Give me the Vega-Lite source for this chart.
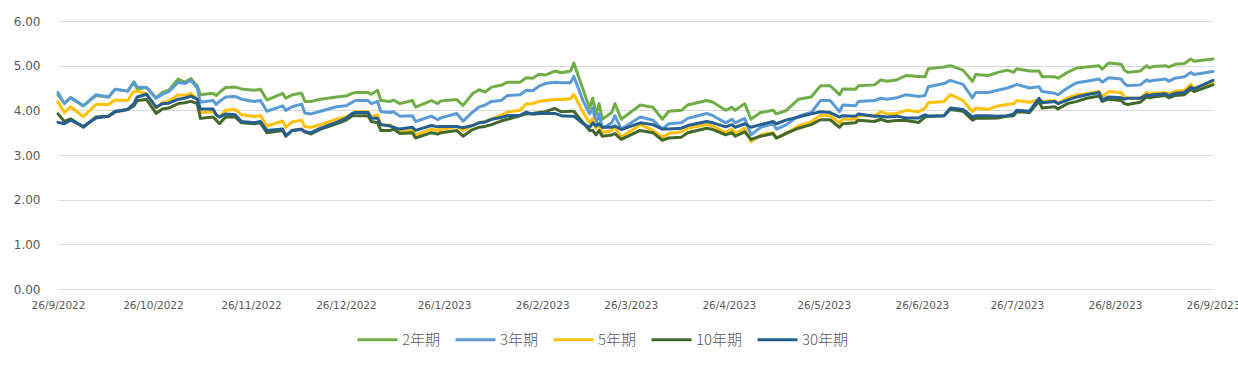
{
  "$schema": "https://vega.github.io/schema/vega-lite/v6.json",
  "width": 1155,
  "height": 268,
  "autosize": {"type": "none"},
  "padding": {"left": 58, "top": 21, "right": 25, "bottom": 80},
  "background": "white",
  "config": {"view": {"stroke": null}},
  "data": {"values": [
    {"date":"2022-09-26","2年期":4.34,"3年期":4.40,"5年期":4.19,"10年期":3.92,"30年期":3.73},
    {"date":"2022-09-28","2年期":4.16,"3年期":4.15,"5年期":3.95,"10年期":3.75,"30年期":3.70},
    {"date":"2022-09-30","2年期":4.28,"3年期":4.29,"5年期":4.08,"10年期":3.81,"30年期":3.78},
    {"date":"2022-10-04","2年期":4.10,"3年期":4.10,"5年期":3.86,"10年期":3.62,"30年期":3.64},
    {"date":"2022-10-08","2年期":4.33,"3年期":4.35,"5年期":4.13,"10年期":3.85,"30年期":3.83},
    {"date":"2022-10-12","2年期":4.30,"3年期":4.30,"5年期":4.13,"10年期":3.87,"30年期":3.87},
    {"date":"2022-10-14","2年期":4.47,"3年期":4.47,"5年期":4.23,"10年期":3.96,"30年期":3.98},
    {"date":"2022-10-18","2年期":4.43,"3年期":4.43,"5年期":4.22,"10年期":4.02,"30年期":4.02},
    {"date":"2022-10-20","2年期":4.62,"3年期":4.64,"5年期":4.43,"10年期":4.10,"30年期":4.15},
    {"date":"2022-10-21","2年期":4.48,"3年期":4.52,"5年期":4.43,"10年期":4.22,"30年期":4.30},
    {"date":"2022-10-24","2年期":4.51,"3年期":4.51,"5年期":4.37,"10年期":4.24,"30年期":4.36},
    {"date":"2022-10-27","2年期":4.28,"3年期":4.27,"5年期":4.05,"10年期":3.93,"30年期":4.07},
    {"date":"2022-10-29","2年期":4.40,"3年期":4.36,"5年期":4.17,"10年期":4.03,"30年期":4.15},
    {"date":"2022-10-31","2年期":4.45,"3年期":4.42,"5年期":4.21,"10年期":4.05,"30年期":4.16},
    {"date":"2022-11-03","2年期":4.70,"3年期":4.63,"5年期":4.35,"10年期":4.15,"30年期":4.25},
    {"date":"2022-11-05","2年期":4.63,"3年期":4.60,"5年期":4.33,"10年期":4.17,"30年期":4.27},
    {"date":"2022-11-07","2年期":4.71,"3年期":4.67,"5年期":4.38,"10年期":4.20,"30年期":4.32},
    {"date":"2022-11-09","2年期":4.55,"3年期":4.50,"5年期":4.25,"10年期":4.15,"30年期":4.25},
    {"date":"2022-11-10","2年期":4.35,"3年期":4.18,"5年期":3.95,"10年期":3.82,"30年期":4.03},
    {"date":"2022-11-14","2年期":4.38,"3年期":4.22,"5年期":3.97,"10年期":3.85,"30年期":4.03},
    {"date":"2022-11-15","2年期":4.33,"3年期":4.13,"5年期":3.90,"10年期":3.78,"30年期":3.90},
    {"date":"2022-11-16","2年期":4.40,"3年期":4.20,"5年期":3.85,"10年期":3.70,"30年期":3.85},
    {"date":"2022-11-18","2年期":4.51,"3年期":4.30,"5年期":4.00,"10年期":3.85,"30年期":3.92},
    {"date":"2022-11-21","2年期":4.52,"3年期":4.31,"5年期":4.02,"10年期":3.85,"30年期":3.90},
    {"date":"2022-11-23","2年期":4.48,"3年期":4.25,"5年期":3.90,"10年期":3.72,"30年期":3.75},
    {"date":"2022-11-27","2年期":4.45,"3年期":4.20,"5年期":3.86,"10年期":3.70,"30年期":3.72},
    {"date":"2022-11-29","2年期":4.47,"3年期":4.22,"5年期":3.88,"10年期":3.72,"30年期":3.75},
    {"date":"2022-12-01","2年期":4.23,"3年期":3.98,"5年期":3.65,"10年期":3.50,"30年期":3.55},
    {"date":"2022-12-06","2年期":4.38,"3年期":4.10,"5年期":3.76,"10年期":3.55,"30年期":3.58},
    {"date":"2022-12-07","2年期":4.27,"3年期":4.00,"5年期":3.62,"10年期":3.42,"30年期":3.43},
    {"date":"2022-12-09","2年期":4.35,"3年期":4.08,"5年期":3.74,"10年期":3.55,"30年期":3.55},
    {"date":"2022-12-12","2年期":4.38,"3年期":4.14,"5年期":3.78,"10年期":3.58,"30年期":3.57},
    {"date":"2022-12-13","2年期":4.20,"3年期":3.94,"5年期":3.63,"10年期":3.52,"30年期":3.52},
    {"date":"2022-12-15","2年期":4.20,"3年期":3.92,"5年期":3.62,"10年期":3.47,"30年期":3.50},
    {"date":"2022-12-18","2年期":4.25,"3年期":3.98,"5年期":3.68,"10年期":3.58,"30年期":3.60},
    {"date":"2022-12-23","2年期":4.30,"3年期":4.08,"5年期":3.80,"10年期":3.70,"30年期":3.73},
    {"date":"2022-12-26","2年期":4.32,"3年期":4.10,"5年期":3.85,"10年期":3.78,"30年期":3.82},
    {"date":"2022-12-28","2年期":4.38,"3年期":4.18,"5年期":3.93,"10年期":3.88,"30年期":3.93},
    {"date":"2022-12-29","2年期":4.40,"3年期":4.22,"5年期":3.97,"10年期":3.88,"30年期":3.95},
    {"date":"2023-01-02","2年期":4.40,"3年期":4.22,"5年期":3.97,"10年期":3.88,"30年期":3.95},
    {"date":"2023-01-03","2年期":4.36,"3年期":4.15,"5年期":3.85,"10年期":3.75,"30年期":3.82},
    {"date":"2023-01-05","2年期":4.45,"3年期":4.20,"5年期":3.90,"10年期":3.72,"30年期":3.82},
    {"date":"2023-01-06","2年期":4.22,"3年期":3.97,"5年期":3.68,"10年期":3.55,"30年期":3.68},
    {"date":"2023-01-09","2年期":4.20,"3年期":3.95,"5年期":3.67,"10年期":3.55,"30年期":3.65},
    {"date":"2023-01-10","2年期":4.23,"3年期":3.97,"5年期":3.60,"10年期":3.58,"30年期":3.62},
    {"date":"2023-01-12","2年期":4.15,"3年期":3.87,"5年期":3.52,"10年期":3.48,"30年期":3.58},
    {"date":"2023-01-16","2年期":4.22,"3年期":3.88,"5年期":3.55,"10年期":3.50,"30年期":3.62},
    {"date":"2023-01-17","2年期":4.07,"3年期":3.75,"5年期":3.45,"10年期":3.38,"30年期":3.55},
    {"date":"2023-01-22","2年期":4.22,"3年期":3.87,"5年期":3.58,"10年期":3.50,"30年期":3.66},
    {"date":"2023-01-24","2年期":4.15,"3年期":3.79,"5年期":3.55,"10年期":3.47,"30年期":3.63},
    {"date":"2023-01-25","2年期":4.21,"3年期":3.83,"5年期":3.57,"10年期":3.50,"30年期":3.64},
    {"date":"2023-01-30","2年期":4.24,"3年期":3.93,"5年期":3.64,"10年期":3.55,"30年期":3.64},
    {"date":"2023-02-01","2年期":4.11,"3年期":3.76,"5年期":3.55,"10年期":3.42,"30年期":3.61},
    {"date":"2023-02-04","2年期":4.37,"3年期":3.96,"5年期":3.66,"10年期":3.57,"30年期":3.66},
    {"date":"2023-02-06","2年期":4.46,"3年期":4.07,"5年期":3.72,"10年期":3.62,"30年期":3.72},
    {"date":"2023-02-08","2年期":4.41,"3年期":4.12,"5年期":3.75,"10年期":3.64,"30年期":3.74},
    {"date":"2023-02-10","2年期":4.52,"3年期":4.20,"5年期":3.80,"10年期":3.68,"30年期":3.80},
    {"date":"2023-02-13","2年期":4.56,"3年期":4.22,"5年期":3.89,"10年期":3.76,"30年期":3.84},
    {"date":"2023-02-15","2年期":4.63,"3年期":4.33,"5年期":3.96,"10年期":3.80,"30年期":3.88},
    {"date":"2023-02-19","2年期":4.63,"3年期":4.35,"5年期":4.00,"10年期":3.88,"30年期":3.89},
    {"date":"2023-02-21","2年期":4.73,"3年期":4.45,"5年期":4.15,"10年期":3.92,"30年期":3.96},
    {"date":"2023-02-23","2年期":4.72,"3年期":4.44,"5年期":4.15,"10年期":3.93,"30年期":3.91},
    {"date":"2023-02-25","2年期":4.81,"3年期":4.54,"5年期":4.20,"10年期":3.95,"30年期":3.93},
    {"date":"2023-02-27","2年期":4.79,"3年期":4.60,"5年期":4.22,"10年期":3.97,"30年期":3.93},
    {"date":"2023-03-02","2年期":4.88,"3年期":4.63,"5年期":4.24,"10年期":4.04,"30年期":3.93},
    {"date":"2023-03-04","2年期":4.84,"3年期":4.62,"5年期":4.24,"10年期":3.97,"30年期":3.88},
    {"date":"2023-03-07","2年期":4.88,"3年期":4.62,"5年期":4.26,"10年期":3.98,"30年期":3.87},
    {"date":"2023-03-08","2年期":5.06,"3年期":4.76,"5年期":4.36,"10年期":3.98,"30年期":3.87},
    {"date":"2023-03-11","2年期":4.45,"3年期":4.20,"5年期":3.95,"10年期":3.72,"30年期":3.70},
    {"date":"2023-03-13","2年期":4.05,"3年期":3.92,"5年期":3.72,"10年期":3.55,"30年期":3.62},
    {"date":"2023-03-14","2年期":4.27,"3年期":4.05,"5年期":3.82,"10年期":3.55,"30年期":3.72},
    {"date":"2023-03-15","2年期":3.90,"3年期":3.70,"5年期":3.60,"10年期":3.45,"30年期":3.65},
    {"date":"2023-03-16","2年期":4.15,"3年期":3.92,"5年期":3.70,"10年期":3.55,"30年期":3.70},
    {"date":"2023-03-17","2年期":3.80,"3年期":3.60,"5年期":3.50,"10年期":3.42,"30年期":3.62},
    {"date":"2023-03-20","2年期":3.95,"3年期":3.72,"5年期":3.55,"10年期":3.45,"30年期":3.62},
    {"date":"2023-03-21","2年期":4.15,"3年期":3.88,"5年期":3.62,"10年期":3.48,"30年期":3.65},
    {"date":"2023-03-23","2年期":3.80,"3年期":3.58,"5年期":3.40,"10年期":3.35,"30年期":3.57},
    {"date":"2023-03-29","2年期":4.12,"3年期":3.85,"5年期":3.68,"10年期":3.55,"30年期":3.72},
    {"date":"2023-04-02","2年期":4.07,"3年期":3.78,"5年期":3.55,"10年期":3.50,"30年期":3.68},
    {"date":"2023-04-05","2年期":3.80,"3年期":3.58,"5年期":3.40,"10年期":3.33,"30年期":3.58},
    {"date":"2023-04-07","2年期":3.98,"3年期":3.70,"5年期":3.48,"10年期":3.38,"30年期":3.58},
    {"date":"2023-04-11","2年期":4.00,"3年期":3.72,"5年期":3.52,"10年期":3.40,"30年期":3.60},
    {"date":"2023-04-13","2年期":4.12,"3年期":3.82,"5年期":3.60,"10年期":3.50,"30年期":3.66},
    {"date":"2023-04-19","2年期":4.22,"3年期":3.93,"5年期":3.68,"10年期":3.60,"30年期":3.75},
    {"date":"2023-04-21","2年期":4.18,"3年期":3.88,"5年期":3.65,"10年期":3.57,"30年期":3.72},
    {"date":"2023-04-25","2年期":4.00,"3年期":3.72,"5年期":3.50,"10年期":3.45,"30年期":3.63},
    {"date":"2023-04-27","2年期":4.07,"3年期":3.80,"5年期":3.58,"10年期":3.50,"30年期":3.68},
    {"date":"2023-04-28","2年期":4.00,"3年期":3.72,"5年期":3.48,"10年期":3.42,"30年期":3.62},
    {"date":"2023-05-01","2年期":4.15,"3年期":3.82,"5年期":3.60,"10年期":3.52,"30年期":3.70},
    {"date":"2023-05-03","2年期":3.80,"3年期":3.45,"5年期":3.30,"10年期":3.35,"30年期":3.62},
    {"date":"2023-05-06","2年期":3.95,"3年期":3.62,"5年期":3.45,"10年期":3.42,"30年期":3.68},
    {"date":"2023-05-10","2年期":4.00,"3年期":3.70,"5年期":3.50,"10年期":3.48,"30年期":3.75},
    {"date":"2023-05-11","2年期":3.92,"3年期":3.58,"5年期":3.38,"10年期":3.38,"30年期":3.70},
    {"date":"2023-05-14","2年期":3.99,"3年期":3.67,"5年期":3.48,"10年期":3.48,"30年期":3.78},
    {"date":"2023-05-18","2年期":4.25,"3年期":3.87,"5年期":3.65,"10年期":3.60,"30年期":3.85},
    {"date":"2023-05-22","2年期":4.30,"3年期":3.95,"5年期":3.74,"10年期":3.68,"30年期":3.92},
    {"date":"2023-05-25","2年期":4.55,"3年期":4.22,"5年期":3.89,"10年期":3.79,"30年期":3.97},
    {"date":"2023-05-28","2年期":4.55,"3年期":4.22,"5年期":3.88,"10年期":3.79,"30年期":3.95},
    {"date":"2023-05-31","2年期":4.35,"3年期":3.97,"5年期":3.72,"10年期":3.62,"30年期":3.85},
    {"date":"2023-06-01","2年期":4.48,"3年期":4.12,"5年期":3.80,"10年期":3.70,"30年期":3.88},
    {"date":"2023-06-05","2年期":4.47,"3年期":4.10,"5年期":3.80,"10年期":3.72,"30年期":3.87},
    {"date":"2023-06-06","2年期":4.55,"3年期":4.20,"5年期":3.88,"10年期":3.78,"30年期":3.92},
    {"date":"2023-06-11","2年期":4.57,"3年期":4.22,"5年期":3.88,"10年期":3.75,"30年期":3.87},
    {"date":"2023-06-13","2年期":4.68,"3年期":4.27,"5年期":3.97,"10年期":3.80,"30年期":3.87},
    {"date":"2023-06-15","2年期":4.65,"3年期":4.25,"5年期":3.92,"10年期":3.75,"30年期":3.85},
    {"date":"2023-06-18","2年期":4.68,"3年期":4.28,"5年期":3.93,"10年期":3.77,"30年期":3.87},
    {"date":"2023-06-21","2年期":4.78,"3年期":4.35,"5年期":4.00,"10年期":3.77,"30年期":3.83},
    {"date":"2023-06-25","2年期":4.76,"3年期":4.31,"5年期":3.97,"10年期":3.73,"30年期":3.83},
    {"date":"2023-06-27","2年期":4.75,"3年期":4.33,"5年期":4.05,"10年期":3.85,"30年期":3.90},
    {"date":"2023-06-28","2年期":4.93,"3年期":4.53,"5年期":4.17,"10年期":3.87,"30年期":3.87},
    {"date":"2023-07-03","2年期":4.97,"3年期":4.60,"5年期":4.20,"10年期":3.88,"30年期":3.88},
    {"date":"2023-07-05","2年期":5.00,"3年期":4.67,"5年期":4.35,"10年期":4.02,"30年期":4.05},
    {"date":"2023-07-09","2年期":4.90,"3年期":4.58,"5年期":4.22,"10年期":3.98,"30年期":4.02},
    {"date":"2023-07-12","2年期":4.65,"3年期":4.28,"5年期":3.97,"10年期":3.78,"30年期":3.85},
    {"date":"2023-07-13","2年期":4.80,"3年期":4.40,"5年期":4.05,"10年期":3.82,"30年期":3.88},
    {"date":"2023-07-17","2年期":4.78,"3年期":4.40,"5年期":4.02,"10年期":3.82,"30年期":3.88},
    {"date":"2023-07-20","2年期":4.85,"3年期":4.45,"5年期":4.10,"10年期":3.83,"30年期":3.87},
    {"date":"2023-07-23","2年期":4.90,"3年期":4.50,"5年期":4.13,"10年期":3.87,"30年期":3.88},
    {"date":"2023-07-25","2年期":4.85,"3年期":4.55,"5年期":4.15,"10年期":3.88,"30年期":3.92},
    {"date":"2023-07-26","2年期":4.93,"3年期":4.58,"5年期":4.22,"10年期":3.97,"30年期":4.00},
    {"date":"2023-07-30","2年期":4.88,"3年期":4.50,"5年期":4.18,"10年期":3.95,"30年期":3.98},
    {"date":"2023-08-02","2年期":4.88,"3年期":4.53,"5年期":4.23,"10年期":4.20,"30年期":4.27},
    {"date":"2023-08-03","2年期":4.75,"3年期":4.42,"5年期":4.20,"10年期":4.05,"30年期":4.17},
    {"date":"2023-08-07","2年期":4.75,"3年期":4.38,"5年期":4.22,"10年期":4.08,"30年期":4.20},
    {"date":"2023-08-08","2年期":4.72,"3年期":4.35,"5年期":4.15,"10年期":4.03,"30年期":4.15},
    {"date":"2023-08-11","2年期":4.85,"3年期":4.50,"5年期":4.28,"10年期":4.15,"30年期":4.23},
    {"date":"2023-08-14","2年期":4.95,"3年期":4.62,"5年期":4.35,"10年期":4.20,"30年期":4.30},
    {"date":"2023-08-17","2年期":4.97,"3年期":4.65,"5年期":4.37,"10年期":4.27,"30年期":4.35},
    {"date":"2023-08-21","2年期":5.00,"3年期":4.70,"5年期":4.42,"10年期":4.32,"30年期":4.40},
    {"date":"2023-08-22","2年期":4.92,"3年期":4.63,"5年期":4.30,"10年期":4.20,"30年期":4.23},
    {"date":"2023-08-24","2年期":5.06,"3年期":4.73,"5年期":4.42,"10年期":4.25,"30年期":4.30},
    {"date":"2023-08-28","2年期":5.03,"3年期":4.70,"5年期":4.40,"10年期":4.22,"30年期":4.28},
    {"date":"2023-08-29","2年期":4.90,"3年期":4.60,"5年期":4.30,"10年期":4.15,"30年期":4.25},
    {"date":"2023-08-30","2年期":4.85,"3年期":4.55,"5年期":4.27,"10年期":4.13,"30年期":4.27},
    {"date":"2023-09-03","2年期":4.88,"3年期":4.57,"5年期":4.27,"10年期":4.18,"30年期":4.27},
    {"date":"2023-09-05","2年期":5.00,"3年期":4.68,"5年期":4.40,"10年期":4.30,"30年期":4.35},
    {"date":"2023-09-06","2年期":4.95,"3年期":4.65,"5年期":4.37,"10年期":4.28,"30年期":4.33},
    {"date":"2023-09-07","2年期":4.98,"3年期":4.67,"5年期":4.38,"10年期":4.30,"30年期":4.35},
    {"date":"2023-09-11","2年期":5.00,"3年期":4.70,"5年期":4.40,"10年期":4.33,"30年期":4.37},
    {"date":"2023-09-12","2年期":4.97,"3年期":4.65,"5年期":4.37,"10年期":4.28,"30年期":4.33},
    {"date":"2023-09-14","2年期":5.03,"3年期":4.72,"5年期":4.43,"10年期":4.33,"30年期":4.38},
    {"date":"2023-09-17","2年期":5.05,"3年期":4.75,"5年期":4.45,"10年期":4.35,"30年期":4.40},
    {"date":"2023-09-19","2年期":5.15,"3年期":4.85,"5年期":4.58,"10年期":4.47,"30年期":4.52},
    {"date":"2023-09-20","2年期":5.10,"3年期":4.80,"5年期":4.50,"10年期":4.42,"30年期":4.48},
    {"date":"2023-09-26","2年期":5.15,"3年期":4.87,"5年期":4.62,"10年期":4.57,"30年期":4.67}
  ]},
  "transform": [
    {"fold": ["2年期", "3年期", "5年期", "10年期", "30年期"], "as": ["series", "value"]}
  ],
  "mark": {"type": "line", "strokeWidth": 3, "strokeJoin": "round", "strokeCap": "round"},
  "encoding": {
    "x": {
      "field": "date",
      "type": "temporal",
      "scale": {"type": "utc", "domain": [{"year": 2022, "month": 9, "date": 26, "utc": true}, {"year": 2023, "month": 9, "date": 26, "utc": true}], "nice": false},
      "axis": {
        "title": null,
        "values": [
          {"year": 2022, "month": 9, "date": 26, "utc": true},
          {"year": 2022, "month": 10, "date": 26, "utc": true},
          {"year": 2022, "month": 11, "date": 26, "utc": true},
          {"year": 2022, "month": 12, "date": 26, "utc": true},
          {"year": 2023, "month": 1, "date": 26, "utc": true},
          {"year": 2023, "month": 2, "date": 26, "utc": true},
          {"year": 2023, "month": 3, "date": 26, "utc": true},
          {"year": 2023, "month": 4, "date": 26, "utc": true},
          {"year": 2023, "month": 5, "date": 26, "utc": true},
          {"year": 2023, "month": 6, "date": 26, "utc": true},
          {"year": 2023, "month": 7, "date": 26, "utc": true},
          {"year": 2023, "month": 8, "date": 26, "utc": true},
          {"year": 2023, "month": 9, "date": 26, "utc": true}
        ],
        "labelExpr": "utcFormat(datum.value, '%-d/%-m/%Y')",
        "labelFont": "DejaVu Sans",
        "labelFontSize": 10.5,
        "labelColor": "#595959",
        "labelPadding": 11,
        "labelOverlap": false,
        "labelBound": false,
        "labelFlush": false,
        "ticks": false,
        "grid": false,
        "domainColor": "#D9D9D9",
        "domainWidth": 1
      }
    },
    "y": {
      "field": "value",
      "type": "quantitative",
      "scale": {"domain": [0, 6], "nice": false},
      "axis": {
        "title": null,
        "values": [0, 1, 2, 3, 4, 5, 6],
        "format": ".2f",
        "labelFont": "DejaVu Sans",
        "labelFontSize": 12,
        "labelColor": "#595959",
        "labelPadding": 18,
        "ticks": false,
        "domain": false,
        "gridColor": "#D9D9D9",
        "gridWidth": 1
      }
    },
    "color": {
      "field": "series",
      "type": "nominal",
      "sort": ["2年期", "3年期", "5年期", "10年期", "30年期"],
      "scale": {"domain": ["2年期", "3年期", "5年期", "10年期", "30年期"], "range": ["#70AD47", "#5B9BD5", "#FFC000", "#43682B", "#255E91"]},
      "legend": {
        "title": null,
        "orient": "none",
        "legendX": 298,
        "legendY": 297,
        "direction": "horizontal",
        "symbolType": "stroke",
        "symbolSize": 1600,
        "symbolStrokeWidth": 3,
        "labelFont": "Noto Sans CJK TC",
        "labelFontSize": 15,
        "labelFontWeight": 300,
        "labelColor": "#595959",
        "labelOffset": 3,
        "columnPadding": 8
      }
    }
  }
}
